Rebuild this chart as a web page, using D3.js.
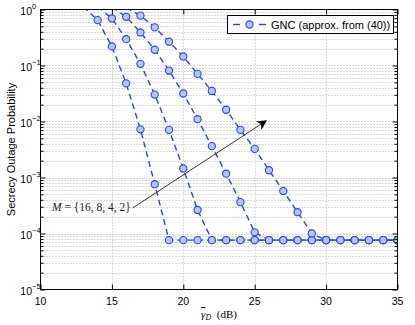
<!DOCTYPE html>
<html>
<head>
<meta charset="utf-8">
<script src="https://cdn.jsdelivr.net/npm/d3@7"></script>
<style>
  body { margin: 0; background: #fff; }
  svg { display: block; }
</style>
</head>
<body>
<script>
// chart size = window size
var width = 415,
    height = 325;

// data (gamma_D in dB, secrecy outage probability)
// first point of each curve sits just above 1 and is clipped like in the original
var xM16 = [13, 14, 15, 16, 17, 18, 19, 20, 21, 22, 23, 24, 25, 26, 27, 28, 29, 30, 31, 32, 33, 34, 35];
var pM16 = [1.12, 0.646, 0.219, 0.0479, 0.00724, 0.000759, 7.6e-5, 7.6e-5, 7.6e-5, 7.6e-5, 7.6e-5, 7.6e-5,
            7.6e-5, 7.6e-5, 7.6e-5, 7.6e-5, 7.6e-5, 7.6e-5, 7.6e-5, 7.6e-5, 7.6e-5, 7.6e-5, 7.6e-5];

var xM8 = [14, 15, 16, 17, 18, 19, 20, 21, 22, 23, 24, 25, 26, 27, 28, 29, 30, 31, 32, 33, 34, 35];
var pM8 = [1.12, 0.692, 0.295, 0.107, 0.0302, 0.00708, 0.00145, 0.000263, 7.6e-5, 7.6e-5, 7.6e-5,
           7.6e-5, 7.6e-5, 7.6e-5, 7.6e-5, 7.6e-5, 7.6e-5, 7.6e-5, 7.6e-5, 7.6e-5, 7.6e-5, 7.6e-5];

var xM4 = [15, 16, 17, 18, 19, 20, 21, 22, 23, 24, 25, 26, 27, 28, 29, 30, 31, 32, 33, 34, 35];
var pM4 = [1.1, 0.741, 0.389, 0.191, 0.0813, 0.0316, 0.011, 0.00363, 0.00117, 0.000363, 0.000105,
           7.6e-5, 7.6e-5, 7.6e-5, 7.6e-5, 7.6e-5, 7.6e-5, 7.6e-5, 7.6e-5, 7.6e-5, 7.6e-5];

var xM2 = [16, 17, 18, 19, 20, 21, 22, 23, 24, 25, 26, 27, 28, 29, 30, 31, 32, 33, 34, 35];
var pM2 = [1.08, 0.776, 0.479, 0.266, 0.145, 0.0708, 0.0351, 0.0162, 0.00708, 0.00324, 0.00135,
           0.000575, 0.00024, 0.0001, 7.6e-5, 7.6e-5, 7.6e-5, 7.6e-5, 7.6e-5, 7.6e-5];

// axis ticks
var xTicks = [10, 15, 20, 25, 30, 35];
var yExponents = [0, -1, -2, -3, -4, -5];

// text
var legendLabel = 'GNC (approx. from (40))';
var yTitle = 'Secrecy Outage Probability';
var mValues = '{16, 8, 4, 2}';

// arrow for the annotation (data coords: dB, probability)
var arrowFrom = [16.45, 2.85e-4];
var arrowTo = [25.8, 1.03e-2];

var curves = [
  { x: xM16, p: pM16 },
  { x: xM8, p: pM8 },
  { x: xM4, p: pM4 },
  { x: xM2, p: pM2 }
];

var lineColor = '#2246ff',
    markerFill = '#bcc4ff';

var svg = d3.select('body')
  .append('svg')
  .attr('width', width)
  .attr('height', height);

// scales
var x = d3.scaleLinear().domain([10, 35]).range([40.5, 397.5]);
var y = d3.scaleLog().domain([1e-5, 1]).range([289.5, 9.5]);

// plot box edges (not "top": that name is taken by window.top)
var pLeft = x.range()[0], pRight = x.range()[1],
    pTop = y.range()[1], pBottom = y.range()[0];

// minor log values for grid and ticks
var minorVals = [];
yExponents.forEach(function(e) {
  if (e === 0) return;
  for (var k = 2; k <= 9; k++) minorVals.push(k * Math.pow(10, e));
});
var majorVals = yExponents.map(function(e) { return Math.pow(10, e); });

// dotted grid
var grid = svg.append('g')
  .attr('stroke', '#b8b8b8')
  .attr('stroke-width', 1)
  .attr('stroke-dasharray', '1,2');

grid.selectAll('.hy')
  .data(minorVals.concat(majorVals.slice(1, -1)))
  .enter().append('line')
  .attr('x1', pLeft).attr('x2', pRight)
  .attr('y1', function(d) { return Math.round(y(d)) + 0.5; })
  .attr('y2', function(d) { return Math.round(y(d)) + 0.5; });

grid.selectAll('.vx')
  .data(xTicks.slice(1, -1))
  .enter().append('line')
  .attr('y1', pTop).attr('y2', pBottom)
  .attr('x1', function(d) { return Math.round(x(d)) + 0.5; })
  .attr('x2', function(d) { return Math.round(x(d)) + 0.5; });

// clip to plot area
svg.append('clipPath').attr('id', 'plotclip')
  .append('rect')
  .attr('x', pLeft).attr('y', pTop)
  .attr('width', pRight - pLeft).attr('height', pBottom - pTop);

var plot = svg.append('g').attr('clip-path', 'url(#plotclip)');

var line = d3.line()
  .x(function(d) { return x(d[0]); })
  .y(function(d) { return y(d[1]); });

curves.forEach(function(c) {
  var pts = c.x.map(function(v, i) { return [v, c.p[i]]; });
  plot.append('path')
    .datum(pts)
    .attr('fill', 'none')
    .attr('stroke', lineColor)
    .attr('stroke-width', 1.4)
    .attr('stroke-dasharray', '6,4')
    .attr('d', line);
  plot.selectAll(null)
    .data(pts.filter(function(d) { return d[1] <= 1; }))
    .enter().append('circle')
    .attr('cx', function(d) { return x(d[0]); })
    .attr('cy', function(d) { return y(d[1]); })
    .attr('r', 3.6)
    .attr('fill', markerFill)
    .attr('stroke', lineColor)
    .attr('stroke-width', 1.1);
});

// axes ticks (inward, on all four sides)
function styleAxis(g) {
  g.select('.domain').remove();
  g.selectAll('.tick line').attr('stroke', '#000');
  g.selectAll('.tick text').remove();
}

svg.append('g').attr('transform', 'translate(0,' + pBottom + ')')
  .call(d3.axisBottom(x).tickValues(xTicks).tickSize(-5)).call(styleAxis);
svg.append('g').attr('transform', 'translate(0,' + pTop + ')')
  .call(d3.axisTop(x).tickValues(xTicks).tickSize(-5)).call(styleAxis);
svg.append('g').attr('transform', 'translate(' + pLeft + ',0)')
  .call(d3.axisLeft(y).tickValues(majorVals).tickSize(-5)).call(styleAxis);
svg.append('g').attr('transform', 'translate(' + pLeft + ',0)')
  .call(d3.axisLeft(y).tickValues(minorVals).tickSize(-3)).call(styleAxis);
svg.append('g').attr('transform', 'translate(' + pRight + ',0)')
  .call(d3.axisRight(y).tickValues(majorVals).tickSize(-5)).call(styleAxis);
svg.append('g').attr('transform', 'translate(' + pRight + ',0)')
  .call(d3.axisRight(y).tickValues(minorVals).tickSize(-3)).call(styleAxis);

// frame
svg.append('rect')
  .attr('x', pLeft).attr('y', pTop)
  .attr('width', pRight - pLeft).attr('height', pBottom - pTop)
  .attr('fill', 'none')
  .attr('stroke', '#000')
  .attr('stroke-width', 1);

// tick labels
var sans = 'Liberation Sans, Arial, Helvetica, sans-serif';
var serif = 'Liberation Serif, DejaVu Serif, serif';

svg.selectAll('.xl')
  .data(xTicks)
  .enter().append('text')
  .attr('x', function(d) { return x(d); })
  .attr('y', pBottom + 15.5)
  .attr('text-anchor', 'middle')
  .attr('font-family', sans)
  .attr('font-size', 10.5)
  .text(function(d) { return d; });

var ylab = svg.selectAll('.yl')
  .data(yExponents)
  .enter().append('g')
  .attr('transform', function(e) { return 'translate(0,' + y(Math.pow(10, e)) + ')'; });

ylab.append('text')
  .attr('x', 32)
  .attr('y', 5)
  .attr('text-anchor', 'end')
  .attr('font-family', sans)
  .attr('font-size', 10.5)
  .text('10');

ylab.append('text')
  .attr('x', 32)
  .attr('y', -0.5)
  .attr('font-family', sans)
  .attr('font-size', 7.5)
  .text(function(e) { return e === 0 ? '0' : '\u2212' + (-e); });

// axis titles
svg.append('text')
  .attr('transform', 'translate(15,' + ((pTop + pBottom) / 2) + ') rotate(-90)')
  .attr('text-anchor', 'middle')
  .attr('font-family', sans)
  .attr('font-size', 11)
  .text(yTitle);

var xt = svg.append('text')
  .attr('x', (pLeft + pRight) / 2)
  .attr('y', 318)
  .attr('text-anchor', 'middle')
  .attr('font-family', serif)
  .attr('font-size', 11);
xt.append('tspan')
  .attr('font-style', 'italic')
  .attr('text-decoration', 'overline')
  .text('\u03b3');
xt.append('tspan')
  .attr('font-style', 'italic')
  .attr('font-size', 8)
  .attr('dy', 2)
  .text('D');
xt.append('tspan')
  .attr('dy', -2)
  .text('\u2002(dB)');

// annotation
svg.append('defs').append('marker')
  .attr('id', 'arrowhead')
  .attr('viewBox', '0 0 10 10')
  .attr('refX', 9).attr('refY', 5)
  .attr('markerWidth', 10).attr('markerHeight', 10)
  .attr('markerUnits', 'userSpaceOnUse')
  .attr('orient', 'auto')
  .append('path')
  .attr('d', 'M0,0 L10,5 L0,10 L3,5 Z')
  .attr('fill', '#000');

svg.append('line')
  .attr('x1', x(arrowFrom[0])).attr('y1', y(arrowFrom[1]))
  .attr('x2', x(arrowTo[0])).attr('y2', y(arrowTo[1]))
  .attr('stroke', '#333')
  .attr('stroke-width', 1)
  .attr('marker-end', 'url(#arrowhead)');

var ann = svg.append('text')
  .attr('x', 52)
  .attr('y', 211)
  .attr('font-family', serif)
  .attr('font-size', 11.5)
  .attr('fill', '#222');
ann.append('tspan').attr('font-style', 'italic').text('M');
ann.append('tspan').text(' = ' + mValues);

// legend
var lg = svg.append('g');
lg.append('rect')
  .attr('x', 227.5).attr('y', 15.5)
  .attr('width', 166).attr('height', 18)
  .attr('fill', '#fff')
  .attr('stroke', '#000')
  .attr('stroke-width', 1);
// two dash pieces either side of the marker
[[233, 240], [259, 266]].forEach(function(seg) {
  lg.append('line')
    .attr('x1', seg[0]).attr('x2', seg[1])
    .attr('y1', 24.5).attr('y2', 24.5)
    .attr('stroke', lineColor)
    .attr('stroke-width', 1.4);
});
lg.append('circle')
  .attr('cx', 249.5).attr('cy', 24.5)
  .attr('r', 3.6)
  .attr('fill', markerFill)
  .attr('stroke', lineColor)
  .attr('stroke-width', 1.1);
lg.append('text')
  .attr('x', 271)
  .attr('y', 28.5)
  .attr('font-family', sans)
  .attr('font-size', 11)
  .text(legendLabel);
</script>
</body>
</html>
